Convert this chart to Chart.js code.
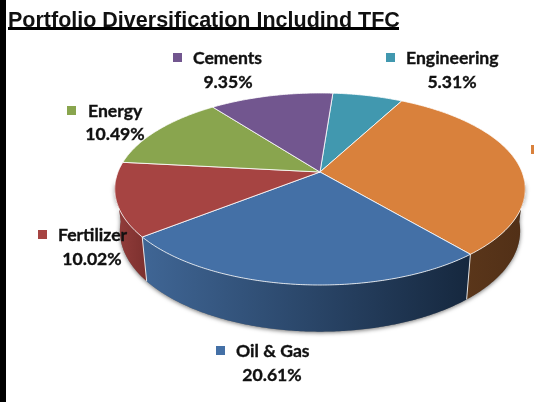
<!DOCTYPE html>
<html><head><meta charset="utf-8">
<style>html,body{margin:0;padding:0;background:#fff;overflow:hidden}canvas{display:block;filter:blur(0.35px)}</style>
<script src="https://cdn.jsdelivr.net/npm/chart.js@4/dist/chart.umd.min.js"></script>
</head><body><canvas id="c" width="534" height="402"></canvas>
<script>
const categories = ["Engineering", "", "Oil & Gas", "Fertilizer", "Energy", "Cements"];
const percentLabels = ["5.31%", "", "20.61%", "10.02%", "10.49%", "9.35%"];
const values = [5.31, 25.2, 20.61, 10.02, 10.49, 9.35];
const topColors = ["#4198af", "#d9813c", "#4470a6", "#a64442", "#89a54e", "#72568f"];
const wallFrom = ["#2f6f80", "#5a361a", "#3f6594", "#8f3b39", "#64793a", "#533f69"];
const wallTo = ["#2f6f80", "#523017", "#16283f", "#7c302e", "#64793a", "#533f69"];
const titleText = "Portfolio Diversification Includind TFC";

// Perspective of the tilted disc
const view = {cx: 320, cy: 172, R: 202, S: 93, k: 0.177, bx: 0.975, bs: 1.05, bcy: 213};
const project = (a, low) => {
  const x = Math.cos(a), y = Math.sin(a), w = 1 - view.k * y;
  return low
    ? [view.cx + view.bx * view.R * x / w, view.bcy + view.bs * view.S * y / w]
    : [view.cx + view.R * x / w, view.cy + view.S * y / w];
};
// Label anchors: marker box left/top, name left/centre y, percent centre x/y
const labelBoxes = [
  {mx: 386, my: 53, nx: 406, ny: 58, px: 452, py: 82},
  {mx: 531, my: 145, nx: 551, ny: 150, px: 590, py: 174},
  {mx: 216, my: 346, nx: 236, ny: 351, px: 272, py: 375},
  {mx: 38, my: 230, nx: 58, ny: 235, px: 92, py: 259},
  {mx: 67, my: 106, nx: 88, ny: 111, px: 115, py: 134},
  {mx: 173, my: 53, nx: 193, ny: 58, px: 228, py: 82}
];

const trace = (ctx, from, to, low, first) => {
  const n = Math.max(2, Math.ceil(Math.abs(to - from) / 0.01));
  for (let i = 0; i <= n; i++) {
    const p = project(from + (to - from) * i / n, low);
    (i === 0 && first) ? ctx.moveTo(p[0], p[1]) : ctx.lineTo(p[0], p[1]);
  }
};
const disc3d = {
  id: "disc3d",
  beforeDraw(chart) {
    const ctx = chart.ctx;
    ctx.save();
    ctx.fillStyle = "#000";
    ctx.fillRect(0, 0, 6, 402);
    ctx.fillRect(8, 27, 391, 3);
    ctx.restore();
  },
  beforeDatasetsDraw(chart) {
    const ctx = chart.ctx, arcs = chart.getDatasetMeta(0).data;
    const frontA = 5 * Math.PI / 180, frontB = 175 * Math.PI / 180;
    const TAU = Math.PI * 2;
    const visible = (e) => {
      let s = e.startAngle, t = e.endAngle;
      while (t > TAU) { s -= TAU; t -= TAU; }
      s = Math.max(s, frontA); t = Math.min(t, frontB);
      return t > s ? [s, t] : null;
    };
    // soft shadow under the lower rim
    ctx.save();
    ctx.shadowColor = "rgba(0,0,0,0.55)";
    ctx.shadowBlur = 4;
    ctx.shadowOffsetY = 1;
    ctx.fillStyle = "#777";
    ctx.beginPath();
    trace(ctx, frontA, frontB, true, true);
    trace(ctx, frontB, frontA, false, false);
    ctx.closePath();
    ctx.fill();
    ctx.restore();
    // walls
    arcs.forEach((e, i) => {
      const r = visible(e);
      if (!r) return;
      const a = project(r[1], true), b = project(r[0], true);
      const g = ctx.createLinearGradient(a[0], 0, b[0], 0);
      g.addColorStop(0, wallFrom[i]);
      g.addColorStop(1, wallTo[i]);
      ctx.fillStyle = g;
      ctx.beginPath();
      trace(ctx, r[0], r[1], false, true);
      trace(ctx, r[1], r[0], true, false);
      ctx.closePath();
      ctx.fill();
    });
    // seams on the wall
    ctx.strokeStyle = "rgba(255,255,255,0.85)";
    ctx.lineWidth = 1;
    arcs.forEach((e) => {
      let s = e.startAngle; while (s > TAU) s -= TAU;
      if (s > frontA && s < frontB) {
        const p = project(s, false), q = project(s, true);
        ctx.beginPath(); ctx.moveTo(p[0], p[1]); ctx.lineTo(q[0], q[1]); ctx.stroke();
      }
    });
    // top face
    arcs.forEach((e, i) => {
      ctx.beginPath();
      ctx.moveTo(view.cx, view.cy);
      trace(ctx, e.startAngle, e.endAngle, false, false);
      ctx.closePath();
      ctx.fillStyle = topColors[i];
      ctx.fill();
      ctx.strokeStyle = "rgba(255,255,255,0.8)";
      ctx.lineWidth = 1;
      ctx.stroke();
    });
    return false;
  },
  afterDraw(chart) {
    const ctx = chart.ctx;
    ctx.save();
    ctx.font = "bold 17.6px Lato";
    ctx.textBaseline = "middle";
    ctx.lineWidth = 0.35;
    ctx.strokeStyle = "#111";
    categories.forEach((name, i) => {
      const b = labelBoxes[i];
      ctx.fillStyle = topColors[i];
      ctx.fillRect(b.mx, b.my, 9, 9);
      ctx.fillStyle = "#111";
      ctx.textAlign = "left";
      ctx.fillText(name, b.nx, b.ny);
      ctx.strokeText(name, b.nx, b.ny);
      ctx.textAlign = "center";
      ctx.fillText(percentLabels[i], b.px, b.py);
      ctx.strokeText(percentLabels[i], b.px, b.py);
    });
    ctx.restore();
  }
};
new Chart(document.getElementById("c"), {
  type: "pie",
  data: {labels: categories, datasets: [{data: values, backgroundColor: topColors}]},
  plugins: [disc3d],
  options: {
    responsive: false,
    animation: false,
    rotation: 4.3,
    layout: {padding: {left: 8, top: 0}},
    plugins: {
      legend: {display: false},
      tooltip: {enabled: false},
      title: {display: true, text: titleText, align: "start", color: "#111",
        font: {family: "Liberation Sans", size: 21.5, weight: "bold"}, padding: {top: 8, bottom: 4}}
    }
  }
});
</script></body></html>
